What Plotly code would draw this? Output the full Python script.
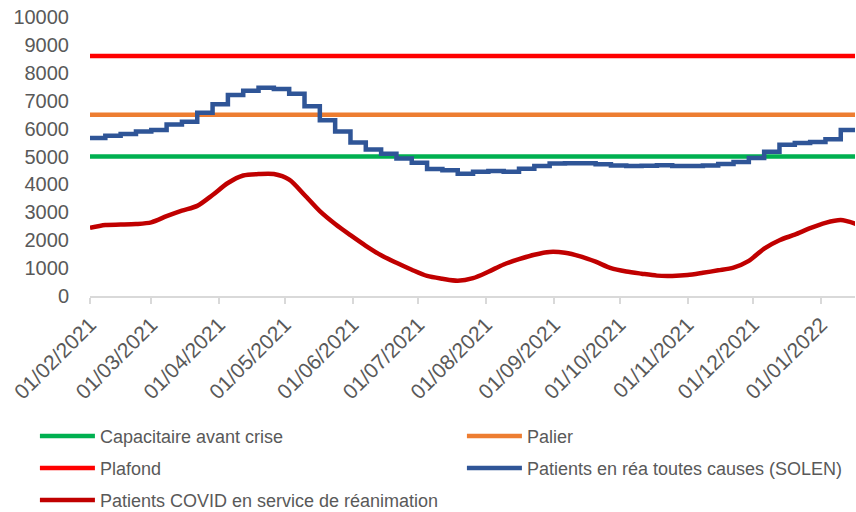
"""Lits de réanimation : capacitaire, palier, plafond et patients (fév. 2021 - janv. 2022)."""

import plotly.graph_objects as go

DATES = [
    "2021-02-01", "2021-02-08", "2021-02-15", "2021-02-22",
    "2021-03-01", "2021-03-08", "2021-03-15", "2021-03-22", "2021-03-29",
    "2021-04-05", "2021-04-12", "2021-04-19", "2021-04-26",
    "2021-05-03", "2021-05-10", "2021-05-17", "2021-05-24", "2021-05-31",
    "2021-06-07", "2021-06-14", "2021-06-21", "2021-06-28",
    "2021-07-05", "2021-07-12", "2021-07-19", "2021-07-26",
    "2021-08-02", "2021-08-09", "2021-08-16", "2021-08-23", "2021-08-30",
    "2021-09-06", "2021-09-13", "2021-09-20", "2021-09-27",
    "2021-10-04", "2021-10-11", "2021-10-18", "2021-10-25",
    "2021-11-01", "2021-11-08", "2021-11-15", "2021-11-22", "2021-11-29",
    "2021-12-06", "2021-12-13", "2021-12-20", "2021-12-27",
    "2022-01-03", "2022-01-10", "2022-01-17",
]

# Patients en réa toutes causes (SOLEN) - données hebdomadaires (paliers)
REA_SOLEN = [
    5660, 5740, 5810, 5900, 5950, 6150, 6250, 6570, 6870, 7200,
    7360, 7460, 7420, 7250, 6800, 6300, 5900, 5500, 5250, 5100,
    4930, 4780, 4550, 4510, 4380, 4450, 4480, 4450, 4560, 4660,
    4750, 4760, 4760, 4720, 4680, 4660, 4670, 4690, 4660, 4660,
    4680, 4730, 4800, 4950, 5170, 5420, 5480, 5520, 5620, 5950,
    5950,
]

# Patients COVID en service de réanimation
REA_COVID = [
    2440, 2545, 2560, 2580, 2640, 2860, 3060, 3230, 3620, 4050,
    4320, 4370, 4370, 4170, 3620, 3040, 2580, 2180, 1800, 1460,
    1190, 940, 720, 620, 550, 640, 870, 1130, 1320, 1480,
    1580, 1550, 1420, 1230, 1000, 880, 800, 730, 720, 750,
    830, 920, 1020, 1260, 1700, 2000, 2200, 2430, 2620, 2720,
    2580,
]

CAPACITAIRE = 5000
PALIER = 6500
PLAFOND = 8600

MOIS = [
    "2021-02-01", "2021-03-01", "2021-04-01", "2021-05-01", "2021-06-01",
    "2021-07-01", "2021-08-01", "2021-09-01", "2021-10-01", "2021-11-01",
    "2021-12-01", "2022-01-01",
]

GRIS = "#595959"
POLICE = "Liberation Sans, Arial, sans-serif"
EPAISSEUR = 4.5

bornes = [DATES[0], DATES[-1]]

fig = go.Figure()
fig.add_trace(go.Scatter(x=bornes, y=[CAPACITAIRE, CAPACITAIRE], mode="lines",
                         name="Capacitaire avant crise", legendgroup="a",
                         line=dict(color="#00B050", width=EPAISSEUR)))
fig.add_trace(go.Scatter(x=bornes, y=[PALIER, PALIER], mode="lines",
                         name="Palier", legendgroup="b",
                         line=dict(color="#ED7D31", width=EPAISSEUR)))
fig.add_trace(go.Scatter(x=bornes, y=[PLAFOND, PLAFOND], mode="lines",
                         name="Plafond", legendgroup="c",
                         line=dict(color="#FF0000", width=EPAISSEUR)))
fig.add_trace(go.Scatter(x=DATES, y=REA_SOLEN, mode="lines",
                         name="Patients en réa toutes causes (SOLEN)", legendgroup="d",
                         line=dict(color="#2F5597", width=EPAISSEUR, shape="hv")))
fig.add_trace(go.Scatter(x=DATES, y=REA_COVID, mode="lines",
                         name="Patients COVID en service de réanimation", legendgroup="e",
                         line=dict(color="#C00000", width=EPAISSEUR, shape="spline",
                                   smoothing=0.8)))

fig.update_layout(
    width=856, height=512,
    margin=dict(l=90, r=1, t=17, b=216, autoexpand=False),
    plot_bgcolor="white", paper_bgcolor="white",
    font=dict(family=POLICE, color=GRIS),
    legend=dict(
        orientation="h", x=-0.072, xanchor="left", y=-0.437, yanchor="top",
        traceorder="grouped", tracegroupgap=5.5,
        itemwidth=55, entrywidth=357, entrywidthmode="pixels",
        font=dict(size=18, color=GRIS, family=POLICE),
    ),
)
fig.update_xaxes(
    range=["2021-02-01", "2022-01-16 12:00"],
    tickvals=MOIS, tickformat="%d/%m/%Y", tickangle=-45,
    tickfont=dict(size=21, color=GRIS),
    showgrid=False, zeroline=False,
    showline=True, linecolor="#D9D9D9", linewidth=2,
    ticks="outside", ticklen=6, tickwidth=2, tickcolor="#D9D9D9",
)
fig.update_yaxes(
    range=[0, 10000], dtick=1000, tickformat="d",
    tickfont=dict(size=20, color=GRIS), ticklabeloverflow="allow",
    showgrid=False, zeroline=False, showline=False,
    ticks="outside", ticklen=16, tickcolor="rgba(0,0,0,0)",
)

# supprime la marge par défaut de la page pour caler le graphique dans la fenêtre
fig.write_html("out.html", config={"displayModeBar": False},
               post_script="document.body.style.margin = '0';")
